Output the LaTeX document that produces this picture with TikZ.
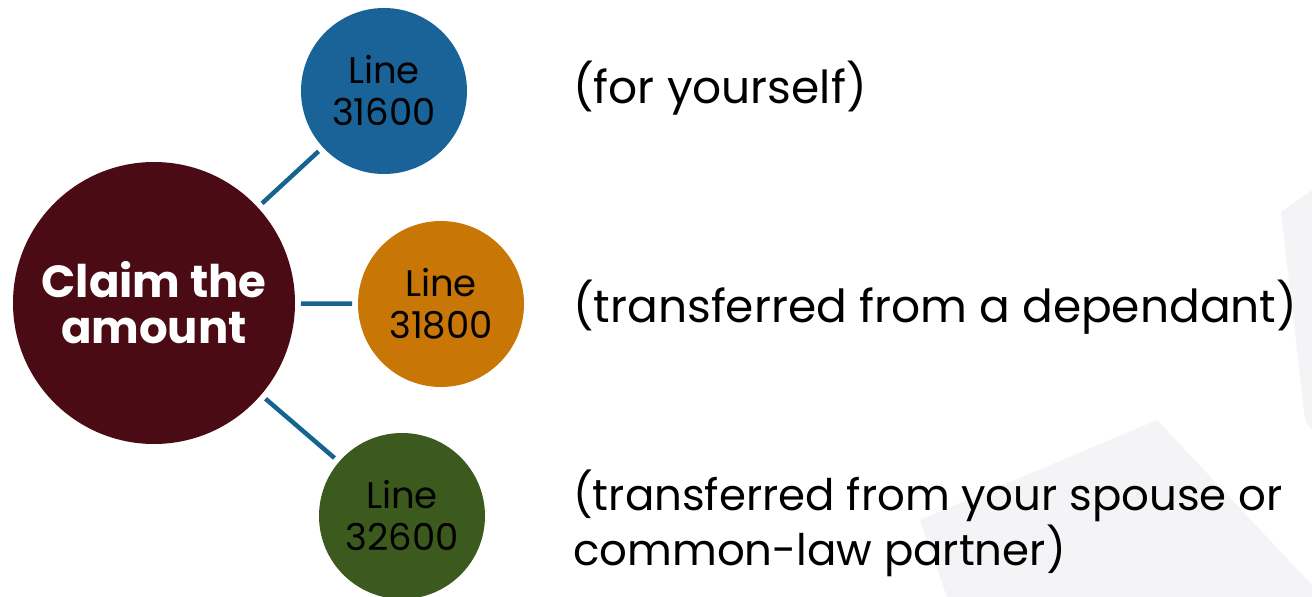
\documentclass[tikz,border=0pt]{standalone}
\usepackage{fontspec}
\setmainfont{Poppins}
\definecolor{maroon}{RGB}{75,11,20}
\definecolor{cblue}{RGB}{25,99,152}
\definecolor{corange}{RGB}{200,118,6}
\definecolor{cgreen}{RGB}{60,90,29}
\definecolor{cline}{RGB}{20,100,143}
\definecolor{wm}{RGB}{244,244,246}
\begin{document}
\begin{tikzpicture}[x=1pt,y=-1pt,
  hub/.style={circle,fill=maroon,minimum size=282pt,inner sep=0pt,outer sep=6pt,
    text=white,align=center,font=\fontsize{45}{46}\selectfont\bfseries},
  leaf/.style={circle,minimum size=166pt,inner sep=0pt,outer sep=6pt,
    text=black,align=center,font=\fontsize{37}{42}\selectfont},
  conn/.style={draw=cline,line width=4.5pt},
  desc/.style={anchor=base west,inner sep=0pt,align=left,
    font=\fontsize{45.5}{55}\selectfont}]
\useasboundingbox (0,0) rectangle (1312,597);
% faint watermark shapes
\fill[wm] (1157,420) -- (920,520) -- (947,597) -- (1312,597) -- (1312,585) -- cycle;
\fill[wm] (1312,190) -- (1281,212) -- (1305,420) -- (1312,430) -- cycle;
% nodes
\node[hub] (hub) at (154,303) {Claim the\\amount};
\node[leaf,fill=cblue] (l1) at (384,91) {Line\\31600};
\node[leaf,fill=corange] (l2) at (441,304) {Line\\31800};
\node[leaf,fill=cgreen] (l3) at (402,516) {Line\\32600};
\draw[conn] (hub) -- (l1);
\draw[conn] (hub) -- (l2);
\draw[conn] (hub) -- (l3);
% descriptions
\node[desc] (d1) at (573,103) {(for yourself)};
\node[desc] (d2) at (573,322) {(transferred from a dependant)};
\node[desc,font=\fontsize{43.5}{55}\selectfont] (d3) at (573,565) {(transferred from your spouse or\\common-law partner)};
\end{tikzpicture}
\end{document}
